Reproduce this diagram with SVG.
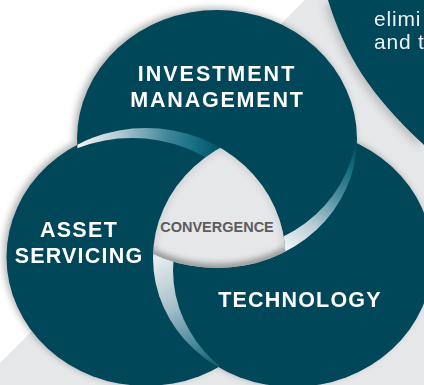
<svg xmlns="http://www.w3.org/2000/svg" width="424" height="385" viewBox="0 0 424 385">
<defs>
<style>
.disc{fill:#02465a}
.title{font-family:"Liberation Sans",Arial,sans-serif;font-weight:bold;font-size:21.5px;fill:#ffffff;text-anchor:middle}
.body{font-family:"Liberation Sans",Arial,sans-serif;font-size:21px;fill:#eef2f4;letter-spacing:0.8px}
.conv{font-family:"Liberation Sans",Arial,sans-serif;font-weight:bold;font-size:14.5px;fill:#5b5c5e;text-anchor:middle}
</style>
<clipPath id="cIM"><ellipse cx="217" cy="139" rx="140" ry="129"/></clipPath>
<clipPath id="cAS"><ellipse cx="146" cy="257" rx="139.5" ry="129"/></clipPath>
<clipPath id="cTE"><ellipse cx="293" cy="258" rx="140" ry="129"/></clipPath>
<mask id="m1" maskUnits="userSpaceOnUse" x="0" y="0" width="424" height="385">
<rect x="0" y="0" width="424" height="385" fill="#fff"/>
<ellipse cx="132" cy="267" rx="139.5" ry="129" fill="#000"/>
<ellipse cx="293" cy="258" rx="140" ry="129" fill="#000"/>
</mask>
<mask id="m2" maskUnits="userSpaceOnUse" x="0" y="0" width="424" height="385">
<rect x="0" y="0" width="424" height="385" fill="#fff"/>
<ellipse cx="313" cy="270" rx="140" ry="129" fill="#000"/>
<ellipse cx="217" cy="139" rx="140" ry="129" fill="#000"/>
</mask>
<mask id="m3" maskUnits="userSpaceOnUse" x="0" y="0" width="424" height="385">
<rect x="0" y="0" width="424" height="385" fill="#fff"/>
<ellipse cx="217" cy="123" rx="140" ry="129" fill="#000"/>
<ellipse cx="146" cy="257" rx="139.5" ry="129" fill="#000"/>
</mask>
<linearGradient id="g1" gradientUnits="userSpaceOnUse" x1="78" y1="140" x2="216" y2="146">
<stop offset="0" stop-color="#f4f7f8"/>
<stop offset="0.3" stop-color="#b2c8d0"/>
<stop offset="0.65" stop-color="#3f8699"/>
<stop offset="0.88" stop-color="#0f6a7e"/>
<stop offset="1" stop-color="#085669"/>
</linearGradient>
<linearGradient id="g2" gradientUnits="userSpaceOnUse" x1="158" y1="258" x2="217" y2="366">
<stop offset="0" stop-color="#e6edf0"/>
<stop offset="0.4" stop-color="#a8c0ca"/>
<stop offset="0.75" stop-color="#4a8a9c"/>
<stop offset="1" stop-color="#0a6072"/>
</linearGradient>
<linearGradient id="g3" gradientUnits="userSpaceOnUse" x1="283" y1="250" x2="357" y2="148">
<stop offset="0" stop-color="#f6f8f9"/>
<stop offset="0.3" stop-color="#b8ccd4"/>
<stop offset="0.6" stop-color="#4a8c9e"/>
<stop offset="0.85" stop-color="#10697d"/>
<stop offset="1" stop-color="#054c60"/>
</linearGradient>
<filter id="ds" x="-20%" y="-20%" width="140%" height="140%">
<feGaussianBlur in="SourceAlpha" stdDeviation="3.5"/>
<feOffset dx="-3" dy="-2" result="b"/>
<feFlood flood-color="#000" flood-opacity="0.3"/>
<feComposite in2="b" operator="in"/>
<feMerge><feMergeNode/><feMergeNode in="SourceGraphic"/></feMerge>
</filter>
<filter id="ds2" x="-30%" y="-30%" width="160%" height="160%">
<feGaussianBlur in="SourceAlpha" stdDeviation="4"/>
<feOffset dx="-4" dy="3" result="b"/>
<feFlood flood-color="#000" flood-opacity="0.18"/>
<feComposite in2="b" operator="in"/>
<feMerge><feMergeNode/><feMergeNode in="SourceGraphic"/></feMerge>
</filter>
<filter id="blur3" x="-10%" y="-10%" width="120%" height="120%">
<feGaussianBlur stdDeviation="3"/>
</filter>
</defs>

<rect x="0" y="0" width="424" height="385" fill="#ffffff"/>
<polygon points="305,0 424,0 424,385 0,385 0,363 130,233 130,175" fill="#e6e7e9"/>

<g id="panel-top-right" filter="url(#ds2)">
<path d="M328,0 C345,55 370,95 424,145 L424,0 Z" fill="#02465a"/>
<text class="body" x="374" y="25.5">elimi</text>
<text class="body" x="374" y="49">and t</text>
</g>

<g id="circles" filter="url(#ds)">
<g id="node-investment-management">
<ellipse class="disc" cx="217" cy="139" rx="140" ry="129"/>
<text class="title" x="217" y="80.5" letter-spacing="2">INVESTMENT</text>
<text class="title" x="217.5" y="106.5" letter-spacing="1.8">MANAGEMENT</text>
</g>
<g id="node-asset-servicing">
<ellipse class="disc" cx="146" cy="257" rx="139.5" ry="129"/>
<text class="title" x="79" y="237" letter-spacing="1.3">ASSET</text>
<text class="title" x="79" y="262.5" letter-spacing="1.2">SERVICING</text>
</g>
<g id="node-technology">
<ellipse class="disc" cx="293" cy="258" rx="140" ry="129"/>
<text class="title" x="300" y="306.5" letter-spacing="1.2">TECHNOLOGY</text>
</g>
</g>

<g id="overlaps">
<g clip-path="url(#cIM)"><ellipse cx="146" cy="257" rx="139.5" ry="129" fill="url(#g1)" mask="url(#m1)"/></g>
<g clip-path="url(#cAS)"><ellipse cx="293" cy="258" rx="140" ry="129" fill="url(#g2)" mask="url(#m2)"/></g>
<g clip-path="url(#cTE)"><ellipse cx="217" cy="139" rx="140" ry="129" fill="url(#g3)" mask="url(#m3)"/></g>
</g>

<g id="node-convergence">
<g clip-path="url(#cIM)"><g clip-path="url(#cAS)"><g clip-path="url(#cTE)">
<rect x="140" y="130" width="160" height="150" fill="#e6e7e9"/>
<ellipse cx="217" cy="139" rx="140" ry="129" fill="none" stroke="#8e8f91" stroke-width="8" filter="url(#blur3)"/>
<ellipse cx="293" cy="258" rx="140" ry="129" fill="none" stroke="#b5b6b8" stroke-width="4" opacity="0.6" filter="url(#blur3)"/>
<ellipse cx="146" cy="257" rx="139.5" ry="129" fill="none" stroke="#b5b6b8" stroke-width="4" opacity="0.6" filter="url(#blur3)"/>
</g></g></g>
<text class="conv" x="217" y="232">CONVERGENCE</text>
</g>

<g id="connectors"/>
</svg>
